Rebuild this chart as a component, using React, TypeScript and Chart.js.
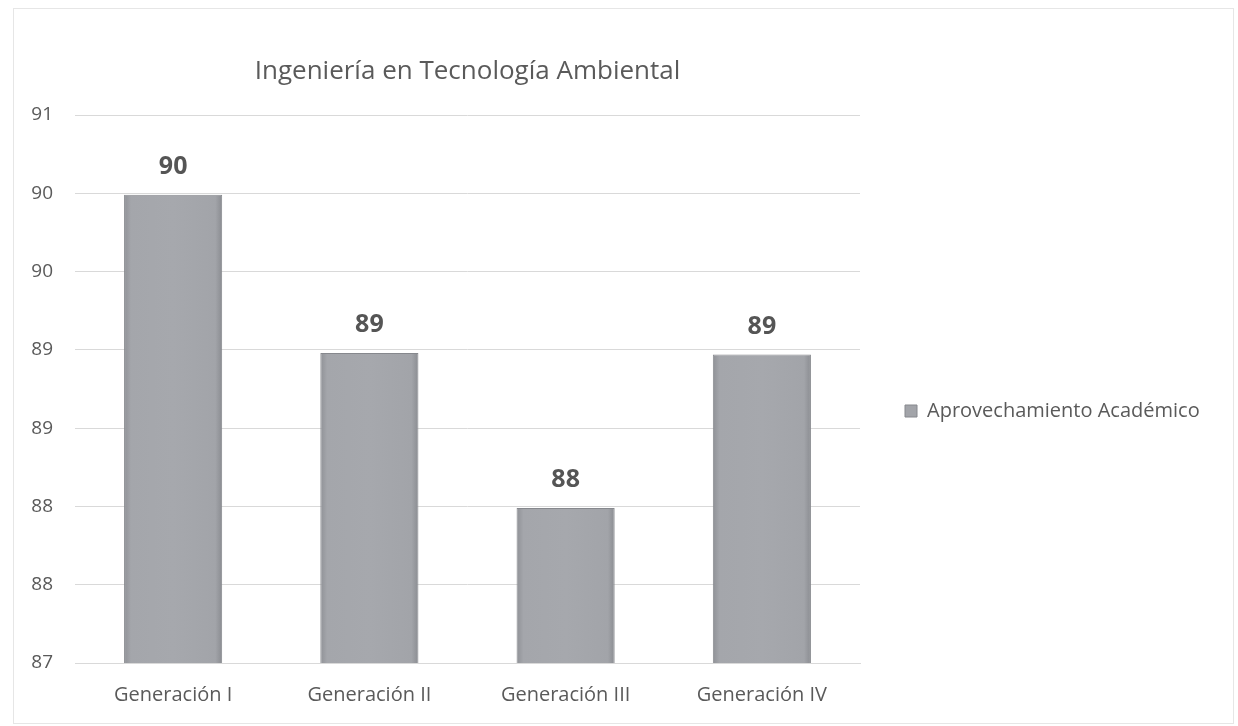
import React, { useEffect, useRef } from "react";
import { Chart, registerables } from "chart.js";

Chart.register(...registerables);

const chartTitle = "Ingeniería en Tecnología Ambiental";
const categories = ["Generación I", "Generación II", "Generación III", "Generación IV"];
const seriesName = "Aprovechamiento Académico";
const values = [89.99, 88.98, 87.99, 88.97];
const yMin = 87;
const yMax = 90.5;
const yStep = 0.5;

const W = 1238;
const H = 726;
const FONT = "'Open Sans', 'DejaVu Sans', sans-serif";
const TEXT = "#5a5a5a";
const BAR_PERCENT = 0.5;

export default function App() {
  const ref = useRef<HTMLCanvasElement>(null);

  useEffect(() => {
    const canvas = ref.current!;
    const legendFontSize = 20;
    const legendPad = 45;
    const legendBox = 12;
    const mctx = canvas.getContext("2d")!;
    mctx.font = `${legendFontSize}px ${FONT}`;
    const tw = mctx.measureText(seriesName).width;
    const legendWidth = legendPad + legendBox + legendFontSize / 2 + tw + 10;
    const padRight = Math.max(0, W - 860 - legendWidth);

    const barFill = (c: any) => {
      const chart = c.chart;
      const xs = chart.scales && chart.scales.x;
      if (c.type !== "data" || !xs || !chart.chartArea) return "#a2a4a9";
      const cx = xs.getPixelForValue(c.dataIndex);
      const half = (xs.width / categories.length) * BAR_PERCENT / 2;
      const g = chart.ctx.createLinearGradient(cx - half, 0, cx + half, 0);
      g.addColorStop(0, "#8f9196");
      g.addColorStop(0.07, "#a4a6ab");
      g.addColorStop(0.5, "#a6a8ad");
      g.addColorStop(0.93, "#a2a4a9");
      g.addColorStop(1, "#8a8c91");
      return g;
    };

    const dataLabels = {
      id: "dataLabels",
      afterDatasetsDraw(chart: any) {
        const { ctx } = chart;
        const meta = chart.getDatasetMeta(0);
        ctx.save();
        ctx.font = `bold 25px ${FONT}`;
        ctx.fillStyle = "#555555";
        ctx.textAlign = "center";
        ctx.textBaseline = "alphabetic";
        meta.data.forEach((el: any, i: number) => {
          ctx.fillText(String(Math.round(values[i])), el.x, el.y - 21);
        });
        ctx.restore();
      },
    };

    const chart = new Chart(canvas, {
      type: "bar",
      data: {
        labels: categories,
        datasets: [
          {
            label: seriesName,
            data: values,
            backgroundColor: barFill,
            borderColor: "#86888d",
            borderWidth: 1,
            categoryPercentage: 1,
            barPercentage: BAR_PERCENT,
          },
        ],
      },
      options: {
        responsive: false,
        animation: false,
        layout: { padding: { left: 0, top: 0, bottom: 0, right: padRight } },
        plugins: {
          title: {
            display: true,
            text: chartTitle,
            fullSize: false,
            color: TEXT,
            font: { family: FONT, size: 26, weight: "normal" },
            padding: { top: 56, bottom: 27.8 },
          },
          legend: {
            position: "right",
            fullSize: false,
            align: "center",
            maxWidth: 600,
            title: { display: true, text: "", padding: { top: 44, bottom: 0 }, font: { size: 0 } },
            labels: {
              boxWidth: legendBox,
              boxHeight: legendBox,
              padding: legendPad,
              color: TEXT,
              font: { family: FONT, size: legendFontSize },
              generateLabels: (ch: any) => [
                {
                  text: seriesName,
                  fillStyle: "#a2a4a9",
                  strokeStyle: "#86888d",
                  lineWidth: 1,
                  hidden: false,
                  datasetIndex: 0,
                  fontColor: TEXT,
                },
              ],
            },
          },
          tooltip: { enabled: false },
        },
        scales: {
          x: {
            grid: { display: false, drawTicks: false },
            border: { display: true, color: "#d9d9d9" },
            ticks: { color: TEXT, font: { family: FONT, size: 20 }, padding: 20 },
            afterFit(s: any) {
              s.height = 63;
            },
          },
          y: {
            min: yMin,
            max: yMax,
            ticks: {
              stepSize: yStep,
              callback: (v: any) => String(Math.round(Number(v))),
              padding: 22,
              color: TEXT,
              font: { family: FONT, size: 19 },
            },
            grid: { color: "#d9d9d9", drawTicks: false },
            border: { display: false },
            afterFit(s: any) {
              s.width = 75;
            },
          },
        },
      },
      plugins: [dataLabels],
    });

    return () => chart.destroy();
  }, []);

  return (
    <div style={{ position: "absolute", left: 0, top: 0, width: W, height: H, background: "#fff" }}>
      <canvas ref={ref} width={W} height={H} style={{ position: "absolute", left: 0, top: 0 }} />
      <div
        style={{
          position: "absolute",
          left: 13,
          top: 8,
          width: 1219,
          height: 714,
          border: "1px solid #e6e6e6",
          pointerEvents: "none",
        }}
      />
    </div>
  );
}
